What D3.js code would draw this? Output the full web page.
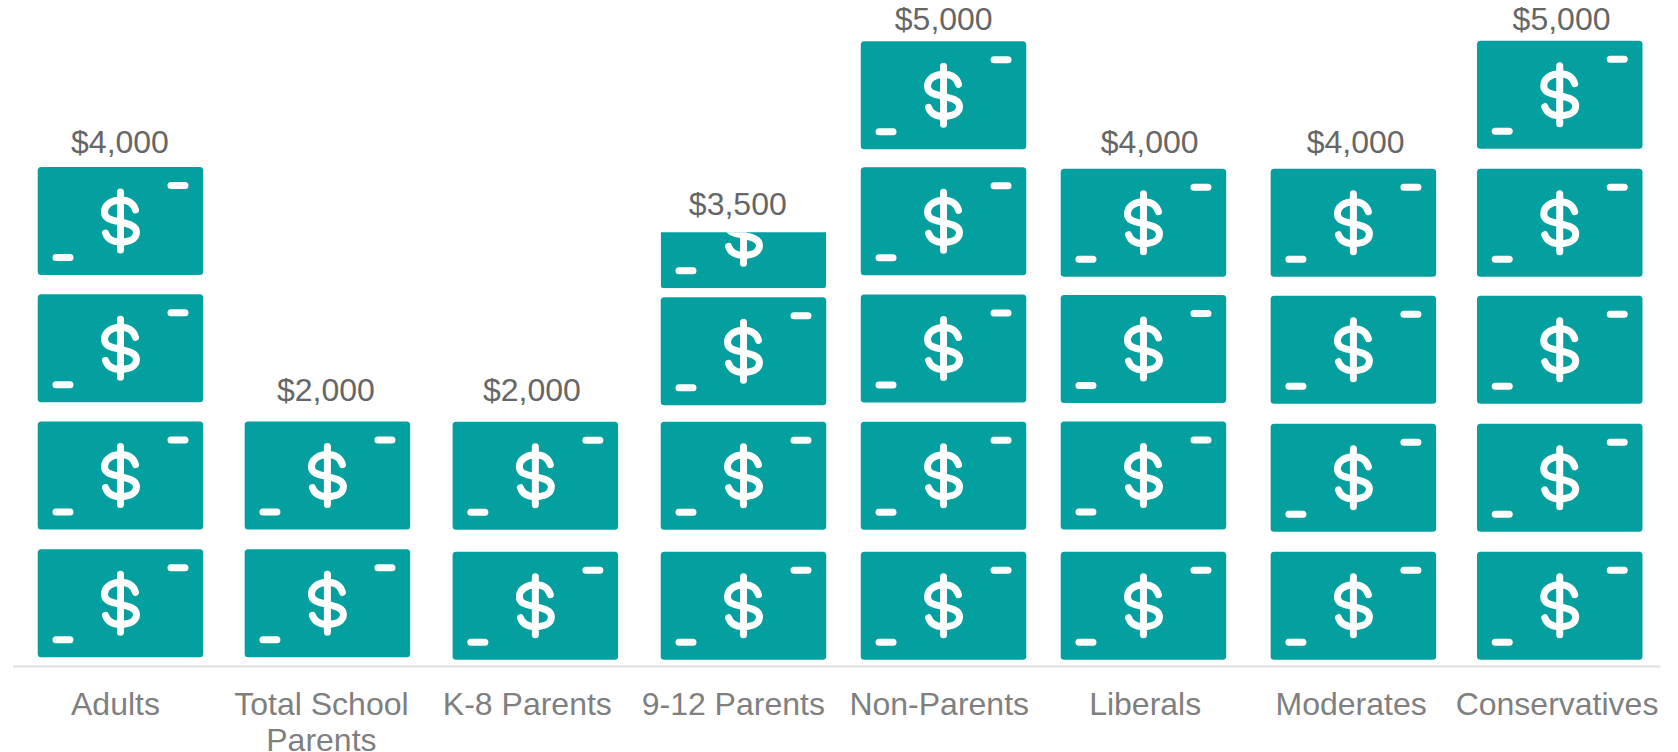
<!DOCTYPE html>
<html>
<head>
<meta charset="utf-8">
<script src="https://cdn.jsdelivr.net/npm/d3@7"></script>
<style>
  html, body { margin: 0; padding: 0; background: #fff; overflow: hidden; }
  svg { display: block; }
  text { font-family: "Liberation Sans", Arial, sans-serif; font-size: 32px; }
</style>
</head>
<body>
<div id="container"></div>
<script>
/* DATA */
const categories = ["Adults", "Total School Parents", "K-8 Parents", "9-12 Parents",
                    "Non-Parents", "Liberals", "Moderates", "Conservatives"];
const amounts = [4000, 2000, 2000, 3500, 5000, 4000, 4000, 5000];
const billValue = 1000;

/* HAND NUDGES - the icons in the source were placed by hand, not on a grid */
const columnShift = [5, 6, 8, 10.2, 4.3, -1.7, 2.3, 2.7];
const billShift = [
  [-1.7, -1.9, -1.7, -1.5],
  [-1.7, -1.9],
  [0.7, -1.8],
  [0.7, -1.8, 1.3, 11.8],
  [0.7, -1.8, -1.5, -1.2, 0.3],
  [0.7, -1.9, -1, 0.2],
  [0.7, 0.3, -0.3, 0.2],
  [0.7, 0.3, -0.3, 0.2, -0.3]
];
const labelShift = [4, -3, -3, 2.3, 8.2, 4.3, 4.3, 8.2];

/* CONSTANTS */
const width = 1678, height = 752;
const axisY = 666;
const billW = 165.5, billH = 108;
const teal = "#03a09f";

// SCALES
const x = d3.scaleBand().domain(categories).range([12.5, 1660]);
const y = d3.scaleLinear().domain([0, 5000]).range([659, 21.5]);

// CREATE SVG ELEMENT
const svg = d3.select("#container").append("svg")
  .attr("width", width)
  .attr("height", height);

/* COLUMNS */
const column = svg.selectAll("g.column")
  .data(categories)
  .join("g")
  .attr("class", "column")
  .attr("transform", (d, i) => "translate(" + (x(d) + x.bandwidth() / 2 + columnShift[i]) + ",0)");

/* BILLS - one per full $1,000, the last one cut off when the amount is partial */
column.each(function(d, i) {
  const count = Math.ceil(amounts[i] / billValue);
  const bills = d3.select(this).selectAll("g.bill")
    .data(d3.range(count))
    .join("g")
    .attr("class", "bill")
    .attr("transform", k => "translate(0," + (y(k * billValue) + billShift[i][k] - billH / 2) + ")");

  bills.each(function(k) {
    const part = Math.min(1, amounts[i] / billValue - k);
    const g = d3.select(this);
    if (part < 1) {
      const id = "cut-" + i;
      g.append("clipPath").attr("id", id).append("rect")
        .attr("x", -billW / 2)
        .attr("y", billH / 2 - billH * part - 2)
        .attr("width", billW)
        .attr("height", billH * part + 2);
      g.attr("clip-path", "url(#" + id + ")");
    }
    drawBill(g);
  });
});

function drawBill(g) {
  g.append("rect")
    .attr("x", -billW / 2).attr("y", -billH / 2)
    .attr("width", billW).attr("height", billH)
    .attr("rx", 3.5)
    .attr("fill", teal);

  // little dashes in the corners
  [[47, -39], [-68, 33]].forEach(p => {
    g.append("rect")
      .attr("x", p[0]).attr("y", p[1])
      .attr("width", 21).attr("height", 7)
      .attr("rx", 3.5)
      .attr("fill", "#fff");
  });

  // dollar sign
  g.append("path")
    .attr("d", "M15,-11 C13,-18 7,-21 0,-21 C-9,-21 -16,-16 -16,-9 C-16,-2 -9,-1 0,1 C9,3 16,5 16,11 C16,18 9,21 0,21 C-8,21 -13,18 -15,12 M0,-29 V29")
    .attr("fill", "none")
    .attr("stroke", "#fff")
    .attr("stroke-width", 7)
    .attr("stroke-linecap", "round");
}

/* VALUE LABELS */
svg.selectAll("text.value")
  .data(categories)
  .join("text")
  .attr("class", "value")
  .attr("x", d => x(d) + x.bandwidth() / 2 + 4.5)
  .attr("y", (d, i) => y(amounts[i]) + labelShift[i])
  .attr("text-anchor", "middle")
  .attr("fill", "#666666")
  .text((d, i) => d3.format("$,")(amounts[i]));

/* X AXIS */
const axis = svg.append("g")
  .attr("transform", "translate(0," + axisY + ")")
  .call(d3.axisBottom(x).tickSize(0).tickPadding(0));

axis.select(".domain").attr("stroke", "#e0e0e0").attr("stroke-width", 2);

axis.selectAll(".tick text")
  .attr("font-family", null)
  .attr("font-size", null)
  .style("font-size", "32px")
  .attr("fill", "#7f7f7f")
  .attr("dy", null)
  .attr("y", 49)
  .each(function(d) {
    // wrap the one long label on two lines
    if (d !== "Total School Parents") return;
    const t = d3.select(this).text(null);
    t.append("tspan").attr("x", 0).attr("y", 49).text("Total School");
    t.append("tspan").attr("x", 0).attr("y", 85).text("Parents");
  });
</script>
</body>
</html>
